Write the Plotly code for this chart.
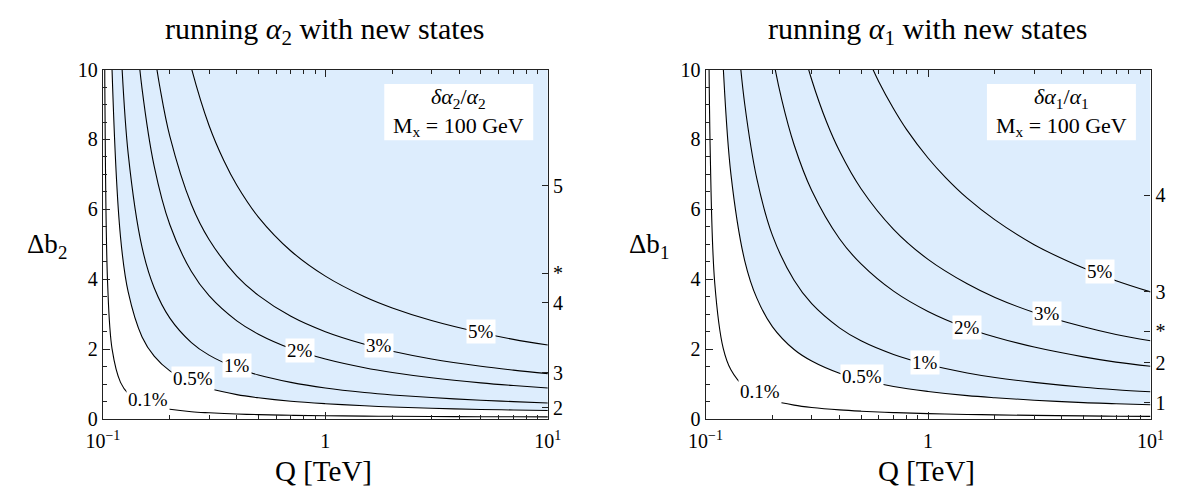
import numpy as np
import plotly.graph_objects as go

# ---------------- data ----------------
levels = ["0.1%", "0.5%", "1%", "2%", "3%", "5%"]

# Left panel: running alpha_2, contour lines of delta alpha2/alpha2 (Q in TeV, Delta b2)
a2_q_01 = [0.101, 0.102, 0.105, 0.11, 0.12, 0.13, 0.15, 0.17, 0.2, 0.25, 0.3, 0.4, 0.5, 0.7, 1, 1.5, 2, 3, 5, 7, 10]
a2_b_01 = [19.1, 9.61, 3.90, 2.00, 1.05, 0.73, 0.47, 0.36, 0.28, 0.21, 0.18, 0.145, 0.127, 0.108, 0.095, 0.085, 0.08, 0.074, 0.068, 0.065, 0.062]
a2_q_05 = [0.105, 0.11, 0.12, 0.13, 0.15, 0.17, 0.2, 0.25, 0.3, 0.4, 0.5, 0.7, 1, 1.5, 2, 3, 5, 7, 10]
a2_b_05 = [19.4, 9.95, 5.21, 3.63, 2.35, 1.80, 1.38, 1.05, 0.88, 0.70, 0.61, 0.51, 0.44, 0.38, 0.345, 0.31, 0.275, 0.26, 0.245]
a2_q_1 = [0.115, 0.12, 0.13, 0.15, 0.17, 0.2, 0.25, 0.3, 0.4, 0.5, 0.7, 1, 1.5, 2, 3, 5, 7, 10]
a2_b_1 = [14.2, 10.89, 7.58, 4.91, 3.76, 2.89, 2.19, 1.83, 1.46, 1.26, 1.05, 0.89, 0.76, 0.69, 0.615, 0.54, 0.50, 0.46]
a2_q_2 = [0.13, 0.14, 0.15, 0.17, 0.2, 0.25, 0.3, 0.4, 0.5, 0.7, 1, 1.5, 2, 3, 5, 7, 10]
a2_b_2 = [14.58, 11.38, 9.45, 7.24, 5.56, 4.22, 3.53, 2.81, 2.43, 2.02, 1.72, 1.47, 1.334, 1.183, 1.037, 0.96, 0.89]
a2_q_3 = [0.16, 0.17, 0.18, 0.2, 0.25, 0.3, 0.4, 0.5, 0.7, 1, 1.5, 2, 3, 5, 7, 10]
a2_b_3 = [11.89, 10.54, 9.53, 8.09, 6.14, 5.14, 4.09, 3.54, 2.94, 2.50, 2.14, 1.94, 1.72, 1.51, 1.40, 1.30]
a2_q_5 = [0.23, 0.25, 0.3, 0.35, 0.4, 0.5, 0.7, 1, 1.5, 2, 3, 5, 7, 10]
a2_b_5 = [11.04, 10.04, 8.40, 7.39, 6.69, 5.78, 4.81, 4.09, 3.50, 3.18, 2.82, 2.47, 2.28, 2.12]

# Right panel: running alpha_1
a1_q_01 = [0.102, 0.105, 0.11, 0.12, 0.13, 0.15, 0.17, 0.2, 0.25, 0.3, 0.4, 0.5, 0.7, 1, 1.5, 2, 3, 5, 7, 10]
a1_b_01 = [18.7, 7.59, 3.88, 2.03, 1.41, 0.909, 0.694, 0.530, 0.400, 0.333, 0.263, 0.226, 0.186, 0.157, 0.133, 0.120, 0.105, 0.091, 0.083, 0.076]
a1_q_05 = [0.11, 0.115, 0.12, 0.13, 0.15, 0.17, 0.2, 0.25, 0.3, 0.4, 0.5, 0.7, 1, 1.5, 2, 3, 5, 7, 10]
a1_b_05 = [19.33, 13.17, 10.10, 7.01, 4.53, 3.46, 2.64, 1.99, 1.66, 1.31, 1.13, 0.93, 0.79, 0.67, 0.61, 0.54, 0.47, 0.44, 0.41]
a1_q_1 = [0.13, 0.14, 0.15, 0.17, 0.2, 0.25, 0.3, 0.4, 0.5, 0.7, 1, 1.5, 2, 3, 5, 7, 10]
a1_b_1 = [13.95, 10.87, 9.01, 6.88, 5.25, 3.97, 3.30, 2.61, 2.24, 1.85, 1.56, 1.32, 1.19, 1.05, 0.91, 0.84, 0.78]
a1_q_2 = [0.17, 0.18, 0.2, 0.22, 0.25, 0.3, 0.4, 0.5, 0.7, 1, 1.5, 2, 3, 5, 7, 10]
a1_b_2 = [13.62, 12.28, 10.41, 9.14, 7.85, 6.54, 5.16, 4.44, 3.66, 3.08, 2.60, 2.35, 2.06, 1.78, 1.63, 1.51]
a1_q_3 = [0.25, 0.27, 0.3, 0.35, 0.4, 0.5, 0.7, 1, 1.5, 2, 3, 5, 7, 10]
a1_b_3 = [11.66, 10.75, 9.71, 8.50, 7.67, 6.59, 5.43, 4.57, 3.87, 3.48, 3.05, 2.64, 2.42, 2.24]
a1_q_5 = [0.5, 0.6, 0.7, 0.8, 1, 1.2, 1.5, 2, 3, 5, 7, 10]
a1_b_5 = [10.77, 9.66, 8.88, 8.29, 7.47, 6.91, 6.32, 5.70, 4.99, 4.32, 3.96, 3.64]

# contour label positions (Q, Delta b)
a2_label_q = [0.16, 0.253, 0.40, 0.77, 1.75, 5.0]
a2_label_b = [0.55, 1.15, 1.52, 1.95, 2.10, 2.50]
a1_label_q = [0.176, 0.505, 0.97, 1.49, 3.42, 5.9]
a1_label_b = [0.80, 1.22, 1.63, 2.62, 3.01, 4.21]

# right-hand axis marks (Delta b values and labels)
a2_right_vals = [0.33, 1.33, 3.33, 4.17, 6.67]
a2_right_text = ["2", "3", "4", "*", "5"]
a1_right_vals = [0.47, 1.61, 2.52, 3.64, 6.41]
a1_right_text = ["1", "2", "*", "3", "4"]

x_tick_vals = [0.1, 1, 10]
x_tick_text = ["10<sup>\u22121</sup>", "1", "10<sup>1</sup>"]
x_minor_vals = [0.2, 0.3, 0.4, 0.5, 0.6, 0.7, 0.8, 0.9, 2, 3, 4, 5, 6, 7, 8, 9]

# ---------------- styling ----------------
OFF = 8                      # default page margin of the html body
W, H = 1183 - OFF, 495 - OFF
FONT = "Liberation Serif"
FILL = "rgb(221,237,253)"
LINE = "black"
AX = "#222"


def px(x):
    return (x - OFF) / W


def py(y):
    return 1 - (y - OFF) / H


Y_DOM = [py(427), py(61)]
X1_DOM = [px(88), px(545)]
X2_DOM = [px(707), px(1164)]

fig = go.Figure()

panels = [
    dict(xa="x", ya="y", curves=[(a2_q_01, a2_b_01), (a2_q_05, a2_b_05), (a2_q_1, a2_b_1),
                                 (a2_q_2, a2_b_2), (a2_q_3, a2_b_3), (a2_q_5, a2_b_5)],
         lq=a2_label_q, lb=a2_label_b),
    dict(xa="x2", ya="y2", curves=[(a1_q_01, a1_b_01), (a1_q_05, a1_b_05), (a1_q_1, a1_b_1),
                                   (a1_q_2, a1_b_2), (a1_q_3, a1_b_3), (a1_q_5, a1_b_5)],
         lq=a1_label_q, lb=a1_label_b),
]

for p in panels:
    q05, b05 = p["curves"][1]
    # invisible upper boundary for the shaded region
    fig.add_trace(go.Scatter(x=q05, y=[30] * len(q05), mode="lines", line=dict(width=0, color=FILL),
                             xaxis=p["xa"], yaxis=p["ya"], showlegend=False, hoverinfo="skip"))
    fig.add_trace(go.Scatter(x=q05, y=b05, mode="lines", fill="tonexty", fillcolor=FILL,
                             line=dict(width=0, color=FILL, shape="spline"),
                             xaxis=p["xa"], yaxis=p["ya"], showlegend=False, hoverinfo="skip"))
    for q, b in p["curves"]:
        fig.add_trace(go.Scatter(x=q, y=b, mode="lines", line=dict(color=LINE, width=1.1, shape="spline"),
                                 xaxis=p["xa"], yaxis=p["ya"], showlegend=False, hoverinfo="skip"))
    for lab, q, b in zip(levels, p["lq"], p["lb"]):
        fig.add_annotation(x=np.log10(q), y=b, xref=p["xa"], yref=p["ya"], text=lab, showarrow=False,
                           bgcolor="white", borderpad=1, font=dict(family=FONT, size=19, color="black"))

# dummy traces so the overlay axes get drawn
for xa, ya in [("x3", "y"), ("x", "y3"), ("x4", "y2"), ("x2", "y4")]:
    fig.add_trace(go.Scatter(x=[1], y=[-50], mode="markers", marker=dict(opacity=0),
                             xaxis=xa, yaxis=ya, showlegend=False, hoverinfo="skip"))

tickfont = dict(family=FONT, size=20, color="black")


def xaxis_cfg(dom, anchor, labels=True, side="bottom", overlay=None):
    d = dict(type="log", range=[-1, 1], domain=dom, anchor=anchor, side=side,
             showline=True, linecolor=AX, linewidth=1.2, showgrid=False, zeroline=False,
             ticks="inside", ticklen=7, tickwidth=1, tickcolor=AX,
             tickmode="array", tickvals=x_tick_vals, ticktext=x_tick_text,
             showticklabels=labels, tickfont=tickfont, ticklabelstandoff=4,
             minor=dict(ticks="inside", ticklen=4, tickwidth=1, tickcolor=AX,
                        tickmode="array", tickvals=x_minor_vals, showgrid=False))
    if overlay:
        d["overlaying"] = overlay
    return d


def yaxis_cfg(anchor):
    return dict(range=[0, 10], domain=Y_DOM, anchor=anchor, showline=True, linecolor=AX, linewidth=1.2,
                showgrid=False, zeroline=False, ticks="inside", ticklen=7, tickwidth=1, tickcolor=AX,
                tickmode="linear", tick0=0, dtick=2, tickfont=tickfont,
                minor=dict(ticks="inside", ticklen=4, tickwidth=1, tickcolor=AX, dtick=0.5, showgrid=False))


def yright_cfg(anchor, overlay, vals, text):
    return dict(range=[0, 10], domain=Y_DOM, anchor=anchor, overlaying=overlay, side="right",
                showline=True, linecolor=AX, linewidth=1.2, showgrid=False, zeroline=False,
                ticks="inside", ticklen=6, tickwidth=1, tickcolor=AX,
                tickmode="array", tickvals=vals, ticktext=text, tickfont=tickfont)


fig.update_layout(
    width=W, height=H, margin=dict(l=0, r=0, t=0, b=0),
    paper_bgcolor="white", plot_bgcolor="white", showlegend=False,
    xaxis=xaxis_cfg(X1_DOM, "y"),
    xaxis2=xaxis_cfg(X2_DOM, "y2"),
    xaxis3=xaxis_cfg(X1_DOM, "y", labels=False, side="top", overlay="x"),
    xaxis4=xaxis_cfg(X2_DOM, "y2", labels=False, side="top", overlay="x2"),
    yaxis=yaxis_cfg("x"),
    yaxis2=yaxis_cfg("x2"),
    yaxis3=yright_cfg("x", "y", a2_right_vals, a2_right_text),
    yaxis4=yright_cfg("x2", "y2", a1_right_vals, a1_right_text),
)

shift = 619
for k, sub in enumerate(["2", "1"]):
    dx = k * shift
    # title
    fig.add_annotation(x=px(316.5 + dx), y=py(21), xref="paper", yref="paper", showarrow=False,
                       text=f"running <i>\u03b1</i><sub>{sub}</sub> with new states",
                       font=dict(family=FONT, size=30, color="black"), xanchor="center", yanchor="middle")
    # x-axis title
    fig.add_annotation(x=px(315 + dx), y=py(481), xref="paper", yref="paper", showarrow=False,
                       text="Q [TeV]", font=dict(family=FONT, size=29, color="black"),
                       xanchor="center", yanchor="middle")
    # y-axis title
    fig.add_annotation(x=px(53 + dx), y=py(246), xref="paper", yref="paper", showarrow=False,
                       text=f"\u0394b<sub>{sub}</sub>", font=dict(family=FONT, size=27, color="black"),
                       xanchor="right", yanchor="middle")
    # legend-like box with two text lines
    fig.add_shape(type="rect", xref="paper", yref="paper", x0=px(377 + dx), x1=px(530 + dx),
                  y0=py(135), y1=py(76), fillcolor="white", line=dict(width=0), layer="above")
    fig.add_annotation(x=px(453.5 + dx), y=py(105.5), xref="paper", yref="paper", showarrow=False,
                       text=(f"<i>\u03b4\u03b1</i><sub>{sub}</sub>/<i>\u03b1</i><sub>{sub}</sub>"
                             "<br>M<sub>x</sub> = 100 GeV"),
                       align="center",
                       font=dict(family=FONT, size=22, color="black"), xanchor="center", yanchor="middle")

fig.write_html("out.html")
